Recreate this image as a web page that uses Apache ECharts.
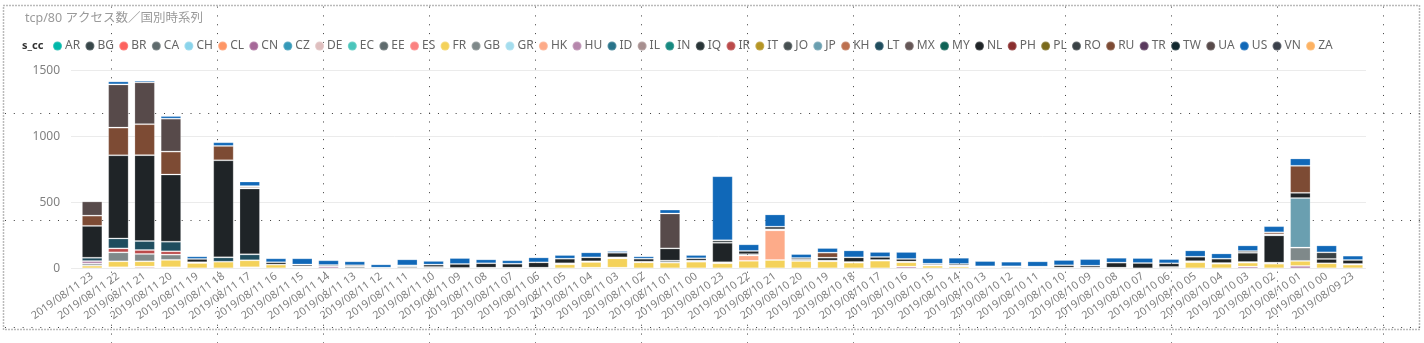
<!DOCTYPE html>
<html>
<head>
<meta charset="utf-8">
<script src="https://cdn.jsdelivr.net/npm/echarts@6/dist/echarts.min.js"></script>
<style>
  html, body { margin: 0; padding: 0; background: #fff; }
  #chart { width: 1424px; height: 343px; }
</style>
</head>
<body>
<div id="chart"></div>
<script>
// Hourly buckets, newest first
const hours = [
  '2019/08/11 23','2019/08/11 22','2019/08/11 21','2019/08/11 20','2019/08/11 19','2019/08/11 18',
  '2019/08/11 17','2019/08/11 16','2019/08/11 15','2019/08/11 14','2019/08/11 13','2019/08/11 12',
  '2019/08/11 11','2019/08/11 10','2019/08/11 09','2019/08/11 08','2019/08/11 07','2019/08/11 06',
  '2019/08/11 05','2019/08/11 04','2019/08/11 03','2019/08/11 02','2019/08/11 01','2019/08/11 00',
  '2019/08/10 23','2019/08/10 22','2019/08/10 21','2019/08/10 20','2019/08/10 19','2019/08/10 18',
  '2019/08/10 17','2019/08/10 16','2019/08/10 15','2019/08/10 14','2019/08/10 13','2019/08/10 12',
  '2019/08/10 11','2019/08/10 10','2019/08/10 09','2019/08/10 08','2019/08/10 07','2019/08/10 06',
  '2019/08/10 05','2019/08/10 04','2019/08/10 03','2019/08/10 02','2019/08/10 01','2019/08/10 00',
  '2019/08/09 23'
];

// Country codes in legend / stacking order
const countries = ['AR','BG','BR','CA','CH','CL','CN','CZ','DE','EC','EE','ES','FR','GB','GR','HK','HU','ID','IL','IN',
  'IQ','IR','IT','JO','JP','KH','LT','MX','MY','NL','PH','PL','RO','RU','TR','TW','UA','US','VN','ZA'];

const countryColors = ['#01B8AA','#374649','#FD625E','#5F6B6D','#8AD4EB','#FE9666','#A66999','#3599B8','#DFBFBF','#4AC5BB',
  '#5F6B6D','#FB8281','#F4D25A','#7F898A','#A4DDEE','#FDAB89','#B687AC','#28738A','#A78F8F','#168980',
  '#293537','#BB4A4A','#B59525','#475052','#6A9FB0','#BD7150','#1F4D5E','#655757','#0F6356','#1F2427',
  '#8A2E2E','#7A6A1C','#3A4245','#7D4B34','#5A3A5E','#12282F','#574A4A','#1068B8','#3A404B','#FDB262'];

// Access counts per country per hour (same order as hours)
const DE = [0,8,13,8,0,0,8,0,0,0,0,0,0,0,0,5,0,0,0,5,5,0,0,0,0,0,0,0,0,0,0,0,0,0,0,0,0,5,0,0,0,0,0,0,0,0,0,0,0];
const CN = [0,0,0,0,0,0,0,0,0,0,0,0,0,0,0,0,0,0,0,0,0,0,0,0,0,0,0,0,0,0,0,13,0,0,0,0,0,0,0,0,0,0,0,0,13,0,18,0,0];
const FR = [20,45,40,56,40,50,53,28,8,0,0,0,0,0,0,0,0,0,30,43,70,45,43,50,38,57,63,55,53,43,58,33,20,13,0,0,0,0,0,0,0,0,46,35,30,35,38,38,28];
const GB = [15,68,56,40,6,0,0,0,8,0,13,5,12,10,3,0,5,5,8,5,8,5,15,8,8,0,0,10,5,5,5,5,5,8,8,10,8,0,5,5,0,10,8,5,5,8,101,0,5];
const HK = [0,0,0,0,0,0,0,0,0,0,0,0,0,0,0,0,0,0,0,0,0,0,0,0,0,40,225,0,0,0,0,0,0,0,0,0,0,0,0,0,0,0,0,0,0,0,0,0,0];
const HU = [20,0,0,0,0,0,0,0,0,15,0,0,0,0,0,0,0,0,0,0,0,0,0,0,0,0,0,0,0,0,0,0,0,0,7,0,0,0,0,0,0,0,0,0,0,0,0,0,0];
const IR = [0,30,30,25,0,0,0,0,0,0,0,0,0,0,0,0,0,0,0,0,0,0,0,0,0,0,0,0,0,0,0,0,0,0,0,0,0,0,0,0,0,0,0,0,0,0,0,0,0];
const JO = [0,0,0,0,0,0,0,0,0,0,0,0,0,0,0,0,0,0,0,0,0,0,0,0,0,10,8,0,0,0,0,0,0,0,0,0,0,0,0,0,0,0,0,0,0,0,0,0,0];
const JP = [0,0,0,0,0,0,0,0,0,0,0,0,10,0,0,0,0,0,0,0,0,0,0,0,0,0,0,0,0,0,0,0,0,0,0,0,0,0,0,0,0,0,0,0,0,0,376,0,0];
const LT = [25,76,68,73,0,33,45,0,0,0,0,0,0,0,0,0,0,0,0,0,0,0,0,0,0,0,0,0,0,0,0,0,0,0,0,0,0,0,0,0,0,0,0,0,0,0,0,0,0];
const NL = [242,631,652,510,25,737,500,18,13,10,10,0,0,18,30,33,30,40,35,30,35,23,93,18,148,25,20,13,23,35,23,20,10,12,0,5,5,18,15,38,40,28,34,33,70,207,40,33,30];
const RO = [0,0,0,0,0,0,0,0,0,0,0,0,0,0,0,0,0,0,0,0,0,0,0,0,18,0,0,0,0,0,0,0,0,0,0,0,0,0,0,0,0,0,0,0,13,8,0,50,0];
const RU = [78,210,235,174,0,109,10,0,0,0,0,0,0,0,0,0,0,0,0,0,0,0,0,0,0,0,0,0,38,0,0,0,0,0,0,0,0,0,0,0,0,0,0,0,0,15,205,0,0];
const UA = [108,328,318,250,0,0,8,0,0,0,0,0,0,0,0,0,0,0,0,0,0,0,265,0,0,0,0,0,0,0,0,0,0,0,0,0,0,0,0,0,0,0,0,0,0,0,0,0,0];
const US = [0,23,13,20,20,28,35,30,47,36,30,25,46,28,45,30,26,38,28,38,13,18,30,25,487,50,93,30,35,53,38,53,41,47,40,35,40,40,50,37,38,32,48,40,43,47,56,53,33];

const valueTicks = { min: 0, max: 1500, interval: 500 };

const seriesValues = { DE, CN, FR, GB, HK, HU, IR, JO, JP, LT, NL, RO, RU, UA, US };

const FONT = "'Noto Sans', 'Open Sans', 'Noto Sans CJK JP', sans-serif";

const series = countries.map((code, i) => ({
  name: code,
  type: 'bar',
  stack: 'total',
  xAxisIndex: 0,
  yAxisIndex: 0,
  barCategoryGap: '22%',
  itemStyle: { color: countryColors[i], borderColor: 'rgba(255,255,255,0.22)', borderWidth: 1 },
  emphasis: { disabled: true },
  data: (seriesValues[code] || []).map(v => (v === 0 ? '-' : v))
}));

// Report canvas guide: dotted cells behind the visual plus the visual's frame
const guides = [];
const cell = 106.04;
for (let k = 0; k <= 12; k++) {
  const x = Math.round(111 + k * cell) + 0.5;
  guides.push({ type: 'line', z: -10, silent: true,
    shape: { x1: x, y1: 6.6, x2: x, y2: 343 },
    style: { stroke: '#3a3a3a', lineWidth: 1, lineDash: [1, cell / 12 - 1] } });
}
[113.3, 220, 326.7].forEach(y => {
  const yy = Math.round(y) + 0.5;
  guides.push({ type: 'line', z: -10, silent: true,
    shape: { x1: 111 - cell, y1: yy, x2: 1421, y2: yy },
    style: { stroke: '#3a3a3a', lineWidth: 1, lineDash: [1, cell / 12 - 1] } });
});
guides.push({ type: 'rect', z: -9, silent: true,
  shape: { x: 3.5, y: 5.5, width: 1416, height: 324 },
  style: { fill: null, stroke: '#777', lineWidth: 1.5, lineDash: [1, 2] } });
guides.push({ type: 'text', silent: true, left: 22, top: 40,
  style: { text: 's_cc', font: "bold 11px 'Noto Sans', sans-serif", fill: '#333' } });

const chart = echarts.init(document.getElementById('chart'), null, { renderer: 'canvas' });
chart.setOption({
  animation: false,
  backgroundColor: '#fff',
  textStyle: { fontFamily: FONT },
  title: {
    text: 'tcp/80 アクセス数／国別時系列',
    left: 20, top: 7,
    textStyle: { fontSize: 12.5, fontWeight: 'normal', color: '#9a9a9a', fontFamily: FONT }
  },
  legend: {
    data: countries,
    left: 52, top: 40, padding: 0,
    icon: 'circle', itemWidth: 9, itemHeight: 9, itemGap: 4.3,
    selectedMode: false,
    textStyle: { fontSize: 12, color: '#666', fontFamily: FONT, padding: [0, 0, 0, -2] }
  },
  grid: [
    { left: 79, right: 58, top: 70.7, bottom: 74.7, containLabel: false },
    { left: 71, right: 58, top: 70.7, bottom: 74.7, containLabel: false }
  ],
  xAxis: [
    {
      type: 'category', gridIndex: 0, data: hours,
      axisLine: { show: false }, axisTick: { show: false },
      axisLabel: { interval: 0, rotate: 35, margin: 7, fontSize: 10.8, color: '#808080', fontFamily: FONT }
    },
    { type: 'value', gridIndex: 1, show: false, min: 0, max: 1 }
  ],
  yAxis: [
    { type: 'value', gridIndex: 0, min: valueTicks.min, max: valueTicks.max, interval: valueTicks.interval,
      axisLabel: { show: false }, splitLine: { show: false }, axisLine: { show: false }, axisTick: { show: false } },
    { type: 'value', gridIndex: 1, min: valueTicks.min, max: valueTicks.max, interval: valueTicks.interval,
      axisLine: { show: false }, axisTick: { show: false },
      axisLabel: { margin: 11, fontSize: 12, color: '#808080', fontFamily: FONT, formatter: v => String(v) },
      splitLine: { lineStyle: { color: '#ebebeb', width: 1 } } }
  ],
  graphic: guides,
  series: series
});
</script>
</body>
</html>
